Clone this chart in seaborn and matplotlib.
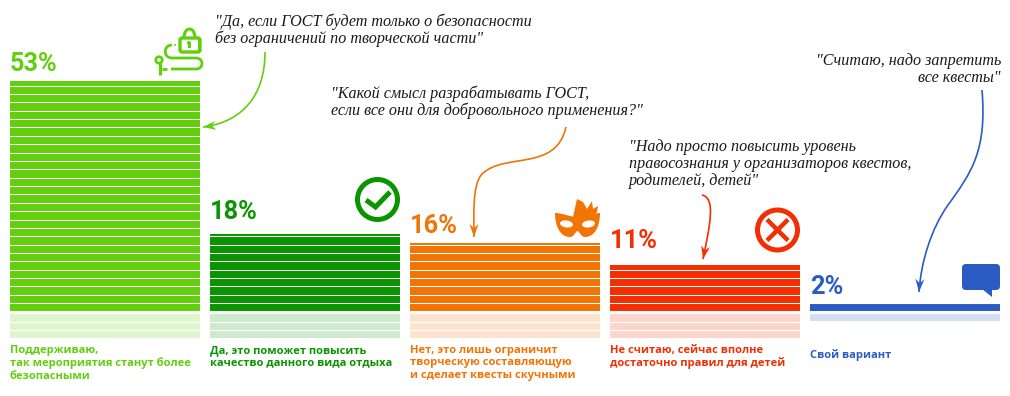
"""
Survey result chart: striped bars with a faded reflection, quotes and icons
"""
import matplotlib
matplotlib.use('Agg')
import matplotlib.pyplot as plt
import seaborn as sns
import numpy as np
from matplotlib.path import Path
from matplotlib.patches import PathPatch, Circle, FancyBboxPatch, Ellipse, Polygon, Rectangle

categories = ['support', 'quality', 'limit', 'enough', 'other']
values = [53, 18, 16, 11, 2]
reflection = [-5.7, -5.7, -5.7, -5.7, -1.9]
colors = ['#62CF0E', '#0A9400', '#F27405', '#F22E02', '#2A5CC4']
percent_labels = ['53%', '18%', '16%', '11%', '2%']
percent_baselines = [71, 219, 233, 248, 294]
captions = ['Поддерживаю,\nтак мероприятия станут более\nбезопасными',
            'Да, это поможет повысить\nкачество данного вида отдыха',
            'Нет, это лишь ограничит\nтворческую составляющую\nи сделает квесты скучными',
            'Не считаю, сейчас вполне\nдостаточно правил для детей',
            'Свой вариант']
caption_tops = [345, 345, 345, 345, 349]
quotes = ['"Да, если ГОСТ будет только о безопасности\nбез ограничений по творческой части"',
          '"Какой смысл разрабатывать ГОСТ,\nесли все они для добровольного применения?"',
          '"Надо просто повысить уровень\nправосознания у организаторов квестов,\nродителей, детей"',
          '"Считаю, надо запретить\nвсе квесты"']

fig = plt.figure(figsize=(10.1, 3.96), dpi=100, facecolor='white')
ax = fig.add_axes([0, 0, 1, 1])

# main bars and the faded copy below them
sns.barplot(x=categories, y=values, hue=categories, palette=colors, width=0.95,
            saturation=1, dodge=False, legend=False, ax=ax)
sns.barplot(x=categories, y=reflection, hue=categories, palette=colors, width=0.95,
            saturation=1, dodge=False, legend=False, alpha=0.2, ax=ax)
ax.set_xlim(-0.525, 4.525)
ax.set_ylim((312.75 - 396) / 4.37, 312.75 / 4.37)
ax.set_axis_off()

# white lines cut the bars into stripes
ax.hlines(0.27 + 1.915 * np.arange(0, 28), -0.525, 4.525, color='white', lw=0.75, zorder=5)
ax.hlines(-0.1 - 1.945 * np.arange(1, 3), -0.525, 4.525, color='white', lw=0.85, zorder=5)
ax.hlines(0.06, -0.525, 4.525, color='white', lw=2.2, zorder=5)

# overlay in pixel coordinates for text, arrows and icons
top = fig.add_axes([0, 0, 1, 1])
top.set_xlim(0, 1010)
top.set_ylim(396, 0)
top.set_axis_off()
top.patch.set_alpha(0)

for i, label in enumerate(percent_labels):
    left = 10 + 200 * i
    top.text(left, percent_baselines[i], label, color=colors[i], family='Roboto',
             fontsize=18.3, fontweight='bold', va='baseline', ha='left')
    top.text(left, caption_tops[i], captions[i], color=colors[i], family='Open Sans',
             fontsize=8.0, fontweight='bold', va='top', ha='left', linespacing=1.17)

quote_style = dict(family='Liberation Serif', style='italic', fontsize=11.6,
                   color='#1a1a1a', linespacing=1.08, va='baseline')
top.text(215, 43, quotes[0], ha='left', **quote_style)
top.text(331, 115, quotes[1], ha='left', **quote_style)
top.text(629, 185, quotes[2], ha='left', **quote_style)
top.text(1001, 82, quotes[3], ha='right', multialignment='right', **quote_style)


def curve(points, color, length=13, half=4.5):
    codes = [Path.MOVETO] + [Path.CURVE4] * (len(points) - 1)
    top.add_patch(PathPatch(Path(points, codes), fc='none', ec=color, lw=1.2, zorder=6))
    # concave arrow head along the last tangent
    tip = np.array(points[-1], dtype=float)
    d = tip - np.array(points[-2], dtype=float)
    d = d / np.hypot(*d)
    n = np.array([-d[1], d[0]])
    head = [tip, tip - d * length + n * half, tip - d * length * 0.68, tip - d * length - n * half]
    top.add_patch(Polygon(head, fc=color, ec='none', zorder=6))


curve([(265, 52), (265, 95), (243, 122), (203, 127)], colors[0])
curve([(566, 127), (556, 172), (505, 152), (482, 174),
       (472, 185), (474, 215), (474, 237)], colors[2])
curve([(702, 195), (716, 198), (710, 225), (703, 259)], colors[3])
curve([(982, 90), (987, 150), (972, 172), (948, 205),
       (931, 229), (921, 262), (919, 292)], colors[4])

# lock and cable icon
green = colors[0]
top.add_patch(FancyBboxPatch((181, 39), 18, 12, boxstyle='round,pad=1,rounding_size=2',
                             fc='white', ec=green, lw=2.4))
top.add_patch(Rectangle((198, 38), 3, 13, fc=green, ec='none'))
top.add_patch(Circle((189, 43), 2, fc=green, ec='none'))
top.add_patch(Rectangle((188, 43), 2.5, 4.5, fc=green, ec='none'))
shackle = Path([(184, 38), (184, 26), (195, 26), (195, 38)],
               [Path.MOVETO, Path.CURVE4, Path.CURVE4, Path.CURVE4])
top.add_patch(PathPatch(shackle, fc='none', ec=green, lw=2.2))
cable = Path([(172, 45), (163, 45), (163, 58), (172, 58), (196, 58), (204, 58), (204, 69),
              (196, 69), (171, 69)],
             [Path.MOVETO, Path.CURVE4, Path.CURVE4, Path.CURVE4, Path.LINETO, Path.CURVE4,
              Path.CURVE4, Path.CURVE4, Path.LINETO])
top.add_patch(PathPatch(cable, fc='none', ec=green, lw=2.0))
top.add_patch(Circle((175, 45), 1, fc=green, ec='none'))
top.add_patch(Circle((159, 60), 3.2, fc='white', ec=green, lw=2))
top.plot([159.5, 159.5], [63, 75], color=green, lw=2.4, solid_capstyle='butt')
top.plot([162, 167], [69, 69], color=green, lw=2.0, solid_capstyle='butt')

# check icon
top.add_patch(Circle((377.5, 199.5), 20, fc='white', ec=colors[1], lw=3.6))
top.plot([366, 375.5, 390], [200, 207, 192], color=colors[1], lw=3.6,
         solid_joinstyle='miter', solid_capstyle='butt')

# mask icon
orange = colors[2]
top.add_patch(Polygon([(573, 217), (575, 208), (577, 199), (583, 202), (587, 209), (592, 201),
                       (593, 209), (598, 206), (597, 212), (592, 217)], fc=orange, ec='none'))
mask = Path([(555, 213), (555, 226), (560, 237), (570, 237),
             (574, 237), (575, 232), (577.5, 231),
             (580, 232), (581, 237), (585, 237),
             (595, 237), (600, 226), (600, 213),
             (592, 213), (586, 217), (577.5, 217),
             (569, 217), (563, 213), (555, 213)],
            [Path.MOVETO] + [Path.CURVE4] * 18)
top.add_patch(PathPatch(mask, fc=orange, ec='none'))
top.add_patch(Ellipse((566.5, 224), 13, 7, angle=8, fc='white', ec='none'))
top.add_patch(Ellipse((588.5, 224), 13, 7, angle=-8, fc='white', ec='none'))

# cross icon
red = colors[3]
top.add_patch(Circle((777.5, 230), 20, fc='white', ec=red, lw=3.6))
top.plot([767, 788], [219.5, 240.5], color=red, lw=3.2, solid_capstyle='butt')
top.plot([767, 788], [240.5, 219.5], color=red, lw=3.2, solid_capstyle='butt')

# speech bubble icon
blue = colors[4]
top.add_patch(FancyBboxPatch((965, 267), 32, 20, boxstyle='round,pad=3,rounding_size=4',
                             fc=blue, ec='none'))
top.add_patch(Polygon([(982, 289), (992, 297), (992, 289)], fc=blue, ec='none'))

fig.savefig('out.png', dpi=100)
